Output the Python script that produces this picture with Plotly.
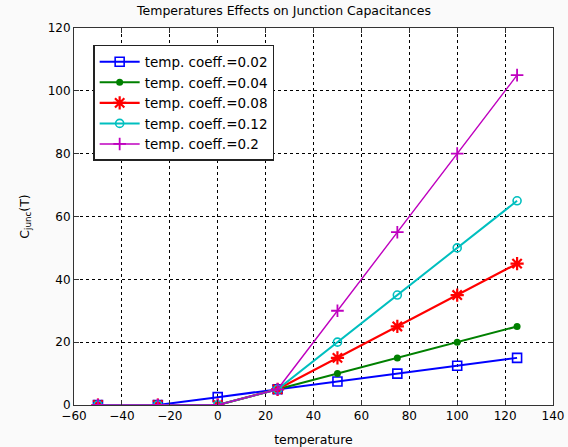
import plotly.graph_objects as go

# Junction capacitance vs. temperature for several temperature coefficients
temperature = [-50, -25, 0, 25, 50, 75, 100, 125]
c_002 = [0, 0, 2.5, 5, 7.5, 10, 12.5, 15]
c_004 = [0, 0, 0, 5, 10, 15, 20, 25]
c_008 = [0, 0, 0, 5, 15, 25, 35, 45]
c_012 = [0, 0, 0, 5, 20, 35, 50, 65]
c_020 = [0, 0, 0, 5, 30, 55, 80, 105]

x_ticks = [-60, -40, -20, 0, 20, 40, 60, 80, 100, 120, 140]
y_ticks = [0, 20, 40, 60, 80, 100, 120]

series = [
    ("temp. coeff.=0.02", c_002, "#0000ff", dict(symbol="square-open", size=9, line=dict(width=1.6)), 2),
    ("temp. coeff.=0.04", c_004, "#008000", dict(symbol="circle", size=7), 2),
    ("temp. coeff.=0.08", c_008, "#ff0000", dict(symbol="asterisk-open", size=11, line=dict(width=2.2)), 2.2),
    ("temp. coeff.=0.12", c_012, "#00bfbf", dict(symbol="circle-open", size=8, line=dict(width=1.6)), 2),
    ("temp. coeff.=0.2", c_020, "#bf00bf", dict(symbol="cross-thin-open", size=9, line=dict(width=1.8)), 1.4),
]

fig = go.Figure()
for name, vals, color, marker, lw in series:
    m = dict(marker)
    m["color"] = color
    if "line" in m:
        m["line"] = dict(m["line"], color=color)
    fig.add_trace(go.Scatter(
        x=temperature, y=vals, name=name, mode="lines+markers",
        line=dict(color=color, width=lw), marker=m,
    ))

axis_common = dict(
    showgrid=True, gridcolor="black", griddash="3px,3px", gridwidth=1,
    showline=True, linecolor="#333333", linewidth=1, mirror="ticks",
    ticks="inside", ticklen=5, tickcolor="#333333",
    zeroline=False, tickfont=dict(size=12, color="black"),
    automargin=False,
)

fig.update_layout(
    width=568, height=447,
    margin=dict(l=74, r=15, t=28, b=42),
    paper_bgcolor="#fafafa", plot_bgcolor="white",
    font=dict(family="DejaVu Sans, Verdana, sans-serif", color="black", size=12),
    title=dict(text="Temperatures Effects on Junction Capacitances",
               x=0.5, xanchor="center", y=0.985, yanchor="top",
               font=dict(size=12.5)),
    xaxis=dict(axis_common, range=[-60, 140], tickvals=x_ticks,
               title=dict(text="temperature", font=dict(size=12.5))),
    yaxis=dict(axis_common, range=[0, 120], tickvals=y_ticks,
               title=dict(text="C<sub>junc</sub>(T)", font=dict(size=12.5))),
    legend=dict(x=0.04, y=0.955, xanchor="left", yanchor="top",
                bgcolor="white", bordercolor="#222222", borderwidth=1.5,
                font=dict(size=13.5), tracegroupgap=0, itemwidth=40),
    showlegend=True,
)

fig.write_html("out.html")
